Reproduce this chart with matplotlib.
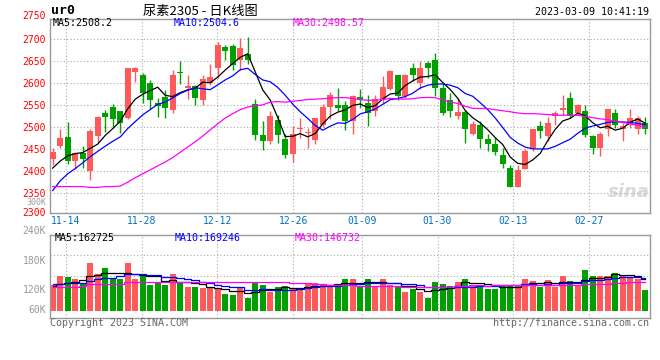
import numpy as np
import pandas as pd
import matplotlib
matplotlib.use("Agg")
import matplotlib.pyplot as plt
from matplotlib.transforms import ScaledTranslation

# ---- daily candles ur2305, 2022-11-10 .. 2023-03-09 ----
opens = [2426, 2457, 2477, 2423, 2440, 2399, 2479, 2532, 2545, 2536,
         2520, 2624, 2619, 2600, 2554, 2567, 2539, 2625, 2589, 2592,
         2560, 2600, 2633, 2682, 2683, 2652, 2666, 2552, 2481, 2467,
         2515, 2473, 2439, 2495, 2486, 2471, 2505, 2545, 2549, 2549,
         2514, 2567, 2555, 2537, 2560, 2586, 2617, 2570, 2634, 2600,
         2646, 2652, 2589, 2562, 2525, 2534, 2484, 2504, 2473, 2461,
         2437, 2407, 2364, 2405, 2451, 2501, 2480, 2524, 2538, 2566,
         2532, 2536, 2479, 2451, 2495, 2531, 2494, 2504, 2494, 2509]
highs = [2452, 2495, 2511, 2442, 2457, 2496, 2525, 2539, 2551, 2537,
         2634, 2636, 2623, 2606, 2566, 2583, 2630, 2649, 2618, 2596,
         2619, 2642, 2693, 2687, 2689, 2702, 2704, 2564, 2513, 2536,
         2528, 2483, 2501, 2519, 2498, 2520, 2553, 2580, 2589, 2558,
         2573, 2586, 2573, 2573, 2615, 2630, 2619, 2621, 2645, 2649,
         2649, 2668, 2600, 2577, 2566, 2539, 2513, 2513, 2484, 2475,
         2452, 2412, 2414, 2450, 2495, 2513, 2522, 2537, 2572, 2580,
         2553, 2549, 2481, 2489, 2541, 2541, 2509, 2541, 2524, 2523]
lows = [2413, 2452, 2416, 2404, 2407, 2380, 2464, 2489, 2498, 2486,
        2517, 2602, 2555, 2540, 2523, 2520, 2532, 2598, 2564, 2549,
        2549, 2595, 2611, 2653, 2630, 2630, 2643, 2471, 2448, 2460,
        2464, 2429, 2420, 2475, 2451, 2460, 2500, 2517, 2537, 2492,
        2483, 2543, 2501, 2524, 2555, 2583, 2562, 2566, 2604, 2585,
        2611, 2570, 2528, 2522, 2517, 2464, 2481, 2451, 2446, 2437,
        2407, 2364, 2364, 2405, 2446, 2475, 2467, 2505, 2528, 2519,
        2526, 2476, 2439, 2433, 2479, 2498, 2467, 2498, 2484, 2483]
closes = [2443, 2475, 2423, 2440, 2426, 2491, 2523, 2522, 2517, 2509,
          2634, 2633, 2577, 2560, 2547, 2542, 2618, 2622, 2592, 2566,
          2609, 2613, 2686, 2672, 2640, 2680, 2653, 2481, 2467, 2525,
          2481, 2435, 2484, 2498, 2488, 2519, 2545, 2572, 2543, 2514,
          2570, 2561, 2532, 2564, 2591, 2626, 2570, 2619, 2617, 2634,
          2633, 2589, 2532, 2537, 2534, 2494, 2507, 2473, 2460, 2443,
          2416, 2364, 2402, 2446, 2495, 2490, 2509, 2531, 2542, 2524,
          2549, 2481, 2451, 2484, 2541, 2505, 2503, 2520, 2520, 2494]
volumes = [137100, 164100, 161100, 155100, 142200, 204000, 170100, 188100, 155100, 155100,
           204000, 155100, 170100, 137100, 147000, 137100, 170100, 142200, 132000, 132000,
           129000, 127200, 127200, 110100, 107100, 127200, 99000, 142200, 137100, 117000,
           132000, 134100, 127200, 127200, 140100, 142200, 137100, 137100, 137100, 155100,
           155100, 132000, 155100, 132000, 155100, 137100, 134100, 117000, 124200, 117000,
           99000, 147000, 140100, 134100, 147000, 155100, 137100, 137100, 125100, 125100,
           137100, 137100, 137100, 155100, 149100, 132000, 152100, 132000, 164100, 149100,
           137100, 182100, 164100, 164100, 164100, 174000, 167100, 160200, 156000, 122100]

# the first points of every average need history that is not on the chart ->
ma5_head = [2406, 2422, 2434, 2439]
ma10_head = [2355, 2377, 2393, 2405, 2418, 2432, 2444, 2456, 2467]
ma30_head = [2364, 2364, 2364, 2364, 2364, 2362, 2362, 2364, 2364, 2365,
             2374, 2384, 2393, 2402, 2411, 2420, 2430, 2442, 2454, 2466,
             2479, 2493, 2507, 2520, 2530, 2539, 2545, 2548, 2550]
vma5_head = [134100, 140100, 144000, 147000]
vma10_head = [139200, 141000, 142200, 142200, 142200, 149100, 156000, 157200, 157200]
vma30_head = [132000, 132000, 132000, 132000, 135000, 139000, 139000, 139000, 139000, 139000,
              146000, 146000, 146000, 146000, 146000, 146000, 145000, 145000, 145000, 145000,
              145000, 145000, 145000, 145000, 145000, 145000, 145000, 145000, 145000]

tick_idx = [2, 12, 22, 32, 41, 51, 61, 71]
tick_labels = ["11-14", "11-28", "12-12", "12-26", "01-09", "01-30", "02-13", "02-27"]
price_levels = [2350, 2400, 2450, 2500, 2550, 2600, 2650, 2700]
vol_labels = ["240K", "180K", "120K", "60K"]

RED = "#ff5a5a"
GREEN = "#00a000"
GRID = "#aaaaaa"
BORDER = "#999999"
MONO = "DejaVu Sans Mono"


def fx(px):
    return px / 660.0


def fy(py):
    return 1 - py / 360.0


def with_head(series, n, head):
    m = series.rolling(n).mean()
    m.iloc[:len(head)] = head
    return m


o = np.array(opens, float)
h = np.array(highs, float)
l = np.array(lows, float)
c = np.array(closes, float)
v = np.array(volumes, float)
x = np.arange(len(c))
colors = np.where(c >= o, RED, GREEN)

ma5 = with_head(pd.Series(c), 5, ma5_head)
ma10 = with_head(pd.Series(c), 10, ma10_head)
ma30 = with_head(pd.Series(c), 30, ma30_head)
vma5 = with_head(pd.Series(v), 5, vma5_head)
vma10 = with_head(pd.Series(v), 10, vma10_head)
vma30 = with_head(pd.Series(v), 30, vma30_head)

# grid line positions drift a little against the candles on sina charts
tick_pos = [i * 1.012 - 0.3 for i in tick_idx]

fig = plt.figure(figsize=(6.6, 3.6), dpi=100)
fig.patch.set_facecolor("white")

# ---- price panel ----
ax = fig.add_axes([fx(50), fy(212.7), 600 / 660, (212.7 - 19) / 360])
ax.set_xlim(-0.36, 79.64)
ax.set_ylim(2304.5, 2745.5)
ax.vlines(x, l, h, colors=colors, lw=1, zorder=2)
body_lo = np.minimum(o, c)
body_h = np.maximum(np.abs(c - o), 2.5)
ax.bar(x, body_h, bottom=body_lo, width=0.8, color=colors, linewidth=0, zorder=3)
ax.plot(x, ma5, color="black", lw=0.9, zorder=4)
ax.plot(x, ma10, color="#0000ff", lw=0.9, zorder=4)
ax.plot(x, ma30, color="#ff00ff", lw=0.9, zorder=4)

ax.set_yticks(price_levels)
ax.set_yticklabels([str(p) for p in price_levels], color="red", fontsize=7, family=MONO)
# sina prints the price labels a couple of pixels above their grid line
shift_up = ScaledTranslation(0, 2.6 / 100, fig.dpi_scale_trans)
for lbl in ax.get_yticklabels():
    lbl.set_transform(lbl.get_transform() + shift_up)
ax.set_xticks(tick_pos)
ax.set_xticklabels(tick_labels, color="#0070c0", fontsize=7, family=MONO)
ax.tick_params(length=0, pad=2.5)
ax.tick_params(axis="y", pad=3)
ax.grid(True, color=GRID, lw=0.8, ls=(0, (1, 2)), zorder=0)
for s in ax.spines.values():
    s.set_color(BORDER)
    s.set_linewidth(1)

# sina watermark
ax.text(0.965, 0.06, "sina", transform=ax.transAxes, ha="center", va="bottom",
        fontsize=13, fontweight="bold", style="italic", color="#d8d8d8", zorder=1)

# ---- volume panel ----
vol_base = 60000
vax = fig.add_axes([fx(50), fy(317.7), 600 / 660, 83 / 360])
vax.set_xlim(-0.36, 79.64)
vax.set_ylim(39000, 288000)
vax.bar(x, v - vol_base, bottom=vol_base, width=0.8, color=colors, linewidth=0, zorder=2)
vax.plot(x, vma5, color="black", lw=0.9, drawstyle="steps-mid", zorder=3)
vax.plot(x, vma10, color="#0000ff", lw=0.9, drawstyle="steps-mid", zorder=3)
vax.plot(x, vma30, color="#ff00ff", lw=0.9, drawstyle="steps-mid", zorder=3)
lo, hi = vax.get_ylim()
vax.set_yticks([lo + (hi - lo) * f for f in (0.25, 0.5, 0.75)])
vax.set_yticklabels([])
vax.set_xticks(tick_pos)
vax.set_xticklabels([])
vax.tick_params(length=0)
vax.grid(True, color=GRID, lw=0.8, ls=(0, (1, 2)), zorder=0)
for s in vax.spines.values():
    s.set_color(BORDER)
    s.set_linewidth(1)

# ---- texts around the panels ----
fig.text(fx(51), fy(11), "ur0", fontsize=9.5, fontweight="bold", family=MONO, va="center")
fig.text(fx(200), fy(11.5), "尿素2305 - 日K线图", fontsize=9.5, ha="center", va="center",
         family=["Noto Sans CJK SC", "DejaVu Sans"])
fig.text(fx(649), fy(11.7), "2023-03-09 10:41:19", fontsize=7.2, ha="right", va="center", family=MONO)

fig.text(fx(46), fy(15.7), "2750", color="red", fontsize=7, ha="right", va="center", family=MONO)
fig.text(fx(46), fy(212.8), "2300", color="red", fontsize=7, ha="right", va="center", family=MONO)
fig.text(fx(46), fy(202.6), "300K", color=BORDER, fontsize=6, ha="right", va="center", family=MONO)

fig.text(fx(53), fy(23.5), "MA5:2508.2", color="black", fontsize=7.2, va="center", family=MONO)
fig.text(fx(174), fy(23.5), "MA10:2504.6", color="#0000ff", fontsize=7.2, va="center", family=MONO)
fig.text(fx(293), fy(23.5), "MA30:2498.57", color="#ff00ff", fontsize=7.2, va="center", family=MONO)

for lab, py in zip(vol_labels, [230.7, 261, 290, 310]):
    fig.text(fx(46), fy(py), lab, color=BORDER, fontsize=7, ha="right", va="center", family=MONO)

fig.text(fx(55), fy(238.3), "MA5:162725", color="black", fontsize=7.2, va="center", family=MONO)
fig.text(fx(175), fy(238.3), "MA10:169246", color="#0000ff", fontsize=7.2, va="center", family=MONO)
fig.text(fx(295), fy(238.3), "MA30:146732", color="#ff00ff", fontsize=7.2, va="center", family=MONO)

fig.text(fx(50), fy(323.3), "Copyright 2023 SINA.COM", color="#666666", fontsize=7.2, va="center", family=MONO)
fig.text(fx(649), fy(323.3), "http://finance.sina.com.cn", color="#666666", fontsize=7.2,
         ha="right", va="center", family=MONO)

fig.savefig("out.png", dpi=100)
